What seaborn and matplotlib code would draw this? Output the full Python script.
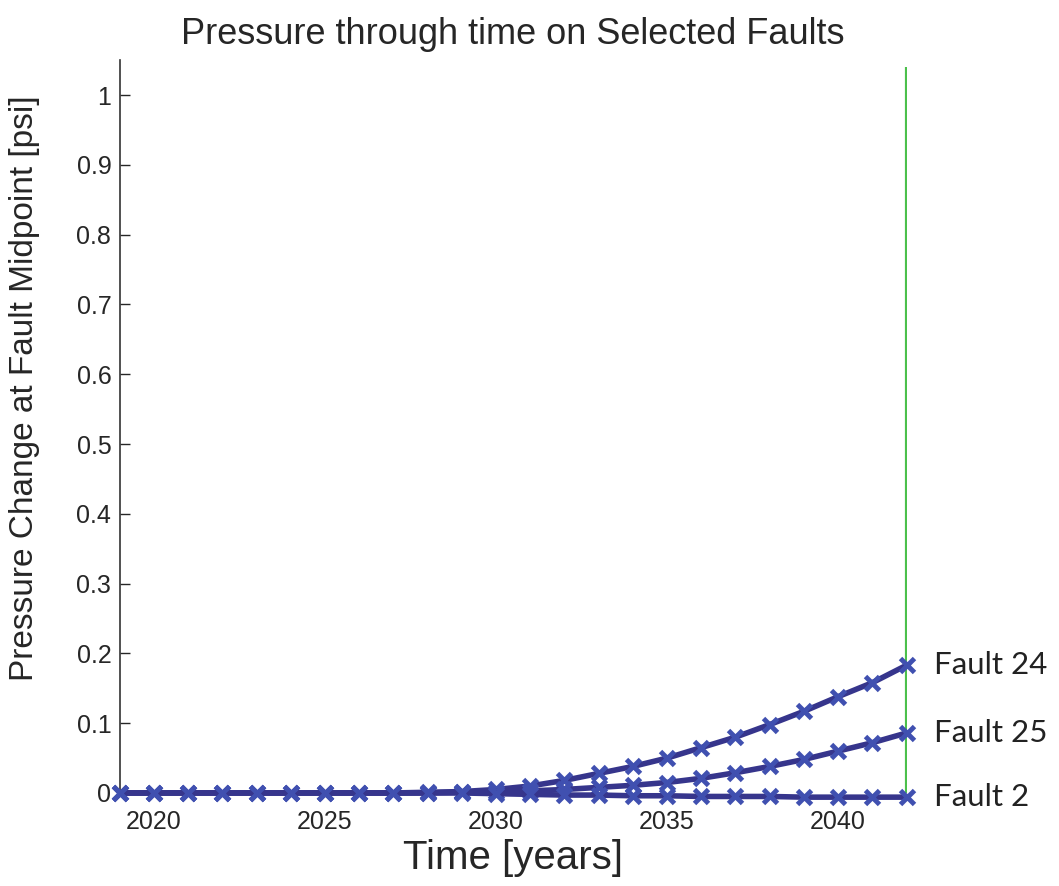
import numpy as np
import pandas as pd
import seaborn as sns
import matplotlib.pyplot as plt

# -----------------------------
# Data
# -----------------------------
years = list(range(2019, 2043))

fault_24 = [0, 0, 0, 0, 0, 0, 0, 0, 0, 0.001, 0.002, 0.005, 0.010, 0.018,
            0.028, 0.038, 0.050, 0.065, 0.080, 0.098, 0.117, 0.138, 0.158, 0.183]
fault_25 = [0, 0, 0, 0, 0, 0, 0, 0, 0, 0, 0.001, 0.002, 0.003, 0.005,
            0.008, 0.011, 0.015, 0.021, 0.029, 0.038, 0.048, 0.060, 0.072, 0.086]
fault_2 = [0, 0, 0, 0, 0, 0, 0, 0, 0, 0, 0, -0.001, -0.002, -0.003,
           -0.003, -0.004, -0.004, -0.005, -0.005, -0.005, -0.006, -0.006, -0.006, -0.006]

series_names = ["Fault 24", "Fault 25", "Fault 2"]
series_values = [fault_24, fault_25, fault_2]

current_year = 2042
current_top = 1.04

ytick_vals = [0, 0.1, 0.2, 0.3, 0.4, 0.5, 0.6, 0.7, 0.8, 0.9, 1]
ytick_labels = ["0", "0.1", "0.2", "0.3", "0.4", "0.5", "0.6", "0.7", "0.8", "0.9", "1"]
xtick_vals = [2020, 2025, 2030, 2035, 2040]

df = pd.DataFrame({
    "year": years * len(series_names),
    "dp": sum(series_values, []),
    "fault": sum([[n] * len(years) for n in series_names], []),
})

# -----------------------------
# Plot
# -----------------------------
sns.set_style("white")
plt.rcParams['font.family'] = ['Liberation Sans', 'DejaVu Sans']

fig = plt.figure(figsize=(10.59, 8.86), dpi=100)
ax = fig.add_axes([0.113, 0.105, 0.743, 0.827])

ax.vlines(current_year, 0, current_top, color="#4cc04c", lw=3, zorder=1)

line_col = "#36358c"
mark_col = "#4050b0"
for name in series_names:
    sub = df[df["fault"] == name]
    sns.lineplot(data=sub, x="year", y="dp", ax=ax, color=line_col, lw=4,
                 marker="x", markersize=10, markeredgewidth=3.5,
                 markeredgecolor=mark_col, clip_on=False, zorder=3)
    last = sub["dp"].iloc[-1]
    ax.text(current_year + 0.8, last, name, fontsize=22.5, family=["Lato", "DejaVu Sans"],
            va="center", ha="left", color="#222222")

ax.set_xlim(2019, 2042)
ax.set_ylim(0, 1.05)
ax.set_yticks(ytick_vals)
ax.set_yticklabels(ytick_labels)
ax.set_xticks(xtick_vals)
ax.tick_params(axis="y", direction="in", length=7, width=1, labelsize=18, pad=6, left=True)
ax.tick_params(axis="x", length=0, labelsize=18, pad=12)

for s in ["top", "right", "bottom"]:
    ax.spines[s].set_visible(False)
ax.spines["left"].set_color("#333333")
ax.spines["left"].set_linewidth(1.2)

ax.set_xlabel("Time [years]", fontsize=29, labelpad=4)
ax.set_ylabel("Pressure Change at Fault Midpoint [psi]", fontsize=24)
ax.yaxis.set_label_coords(-0.101, 0.553)
ax.set_title("Pressure through time on Selected Faults", fontsize=26, pad=12)

plt.savefig("out.png", dpi=100)
plt.close()
